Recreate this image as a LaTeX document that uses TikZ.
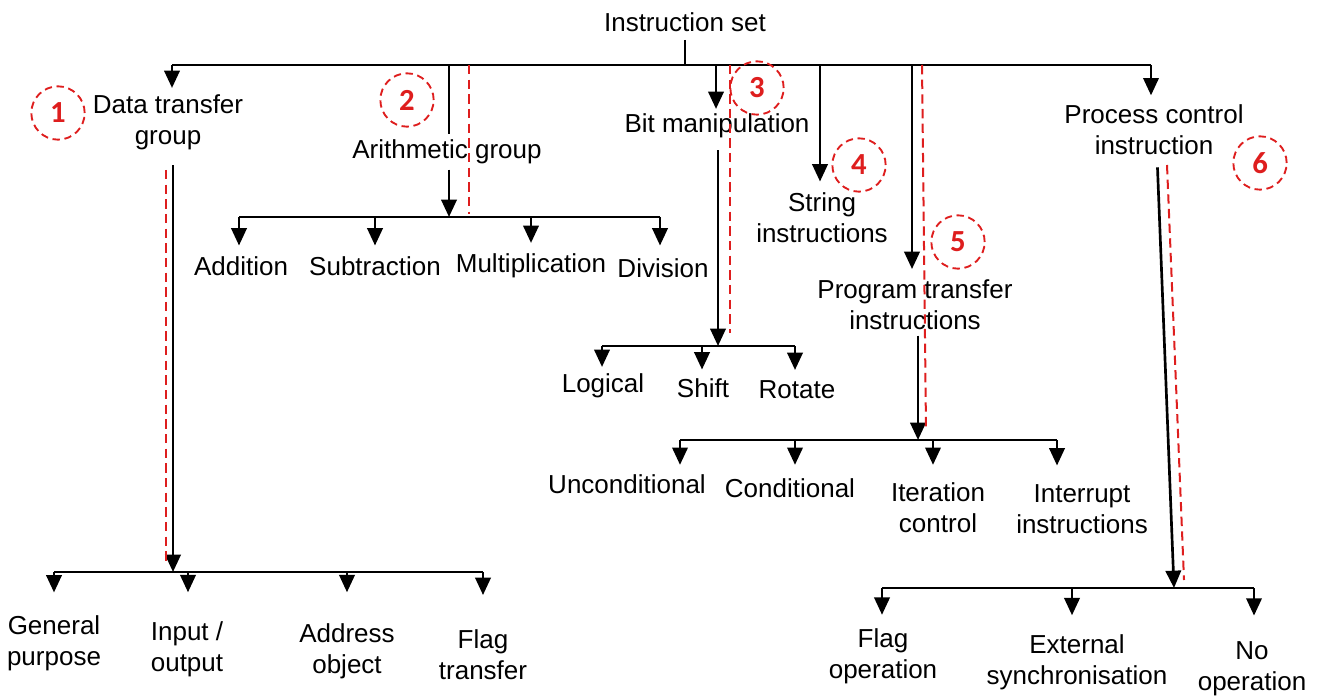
\documentclass[tikz,border=0pt]{standalone}
\usepackage{fontspec}
\setmainfont{Liberation Sans}
\newfontfamily\numfont{Carlito}
\usetikzlibrary{arrows.meta}
\definecolor{mark}{RGB}{222,30,30}
\begin{document}
\begin{tikzpicture}[x=0.75pt,y=-0.75pt,
  txt/.style={font=\fontsize{19.5}{23.25}\selectfont, align=center, inner sep=0pt},
  ln/.style={line width=2pt, black},
  arr/.style={ln, -{Triangle[length=13pt,width=11.5pt]}},
  reddash/.style={draw=mark, line width=1.5pt, dash pattern=on 7pt off 4pt},
  badge/.style={circle, draw=mark, line width=1.4pt, dash pattern=on 5.5pt off 3.5pt,
    minimum size=40pt, inner sep=0pt, text=mark,
    font=\numfont\bfseries\fontsize{23}{25}\selectfont}]
\useasboundingbox (0,0) rectangle (1333,698);

% ---------- text nodes ----------
\node[txt] (root) at (685,22) {Instruction set};
\node[txt] (dt) at (168,122.5) {Data transfer\\group};
\node[txt] (ar) at (447,152) {Arithmetic group};
\node[txt] (bm) at (717,126) {Bit manipulation};
\node[txt] (st) at (822,217.5) {String\\instructions};
\node[txt] (pt) at (915,305) {Program transfer\\instructions};
\node[txt] (pc) at (1154,130) {Process control\\instruction};

\node[txt] (add) at (241,266) {Addition};
\node[txt] (sub) at (375,266) {Subtraction};
\node[txt] (mul) at (531,266) {Multiplication};
\node[txt] (div) at (663,268) {Division};

\node[txt] (log) at (603,386) {Logical};
\node[txt] (shf) at (703,388) {Shift};
\node[txt] (rot) at (797,390) {Rotate};

\node[txt] (unc) at (627,484) {Unconditional};
\node[txt] (con) at (790,488) {Conditional};
\node[txt] (ite) at (938,507.5) {Iteration\\control};
\node[txt] (int) at (1082,509) {Interrupt\\instructions};

\node[txt] (gen) at (54,643) {General\\purpose};
\node[txt] (io) at (187,649.5) {Input /\\output};
\node[txt] (adr) at (347,651.5) {Address\\object};
\node[txt] (flt) at (483,655) {Flag\\transfer};

\node[txt] (flg) at (883,656) {Flag\\operation};
\node[txt] (ext) at (1077,662.5) {External\\synchronisation};
\node[txt] (nop) at (1252,669) {No\\operation};

% ---------- junction coordinates ----------
\coordinate (rj) at (685,65);
\coordinate (tL) at (172,65);
\coordinate (tA) at (449,65);
\coordinate (tB) at (716,65);
\coordinate (tS) at (820,65);
\coordinate (tP) at (912,65);
\coordinate (tR) at (1151,65);

\coordinate (aB) at (449,217);
\coordinate (aL) at (239,217);
\coordinate (a2) at (375,217);
\coordinate (a3) at (531,217);
\coordinate (aR) at (660,217);

\coordinate (bB) at (718,346);
\coordinate (bL) at (602,346);
\coordinate (b2) at (702,346);
\coordinate (bR) at (795,346);

\coordinate (pB) at (918,440);
\coordinate (pL) at (680,440);
\coordinate (p2) at (795,440);
\coordinate (p3) at (933,440);
\coordinate (pR) at (1057,440);

\coordinate (dB) at (173,572);
\coordinate (dL) at (54,572);
\coordinate (d2) at (188,572);
\coordinate (d3) at (347,572);
\coordinate (dR) at (483,572);

\coordinate (cS) at (1157,0);
\coordinate (cB) at (1174,588);
\coordinate (cL) at (882,588);
\coordinate (c2) at (1072,588);
\coordinate (cR) at (1254,588);

% ---------- top level ----------
\draw[ln, shorten <=6pt] (root.south) -- (rj);
\draw[ln] (tL) -- (tR);
\draw[arr, shorten >=5pt] (tL) -- (tL |- dt.north);
\draw[ln, shorten >=4pt] (tA) -- (tA |- ar.north);
\draw[arr, shorten >=3.5pt] (tB) -- (tB |- bm.north);
\draw[arr, shorten >=8pt] (tS) -- (tS |- st.north);
\draw[arr, shorten >=8pt] (tP) -- (tP |- pt.north);
\draw[arr, shorten >=7pt] (tR) -- (tR |- pc.north);

% ---------- arithmetic ----------
\draw[arr, shorten <=4pt] (ar.south -| aB) -- (aB);
\draw[ln] (aL) -- (aR);
\draw[arr, shorten >=8pt] (aL) -- (aL |- add.north);
\draw[arr, shorten >=8pt] (a2) -- (a2 |- sub.north);
\draw[arr, shorten >=8pt] (a3) -- (a3 |- mul.north);
\draw[arr, shorten >=9.5pt] (aR) -- (aR |- div.north);

% ---------- bit manipulation ----------
\draw[arr, shorten <=9pt] (bm.south -| bB) -- (bB);
\draw[ln] (bL) -- (bR);
\draw[arr, shorten >=5pt] (bL) -- (bL |- log.north);
\draw[arr, shorten >=6.5pt] (b2) -- (b2 |- shf.north);
\draw[arr, shorten >=8pt] (bR) -- (bR |- rot.north);

% ---------- program transfer ----------
\draw[arr, shorten <=4pt] (pt.south -| pB) -- (pB);
\draw[ln] (pL) -- (pR);
\draw[arr, shorten >=7pt] (pL) -- (pL |- unc.north);
\draw[arr, shorten >=10pt] (p2) -- (p2 |- con.north);
\draw[arr, shorten >=13pt] (p3) -- (p3 |- ite.north);
\draw[arr, shorten >=14pt] (pR) -- (pR |- int.north);

% ---------- data transfer ----------
\draw[arr, shorten <=11pt] (dt.south -| dB) -- (dB);
\draw[ln] (dL) -- (dR);
\draw[arr, shorten >=17pt] (dL) -- (dL |- gen.north);
\draw[arr, shorten >=22pt] (d2) -- (d2 |- io.north);
\draw[arr, shorten >=23.5pt] (d3) -- (d3 |- adr.north);
\draw[arr, shorten >=26pt] (dR) -- (dR |- flt.north);

% ---------- process control ----------
\draw[arr, shorten <=9pt] (pc.south -| cS) -- (cB);
\draw[ln] (cL) -- (cR);
\draw[arr, shorten >=10pt] (cL) -- (cL |- flg.north);
\draw[arr, shorten >=14.5pt] (c2) -- (c2 |- ext.north);
\draw[arr, shorten >=19.5pt] (cR) -- (cR |- nop.north);

% ---------- red dashed marks ----------
\draw[reddash] (166,170) -- (166,562);
\draw[reddash] (469,65) -- (469,214);
\draw[reddash] (730,65) -- (730,333);
\draw[reddash] (922,65) -- (926,430);
\draw[reddash] (1167,165) -- (1184,580);

\node[badge] (n1) at (58,113) {1};
\node[badge] (n2) at (407,100) {2};
\node[badge] (n3) at (757,88) {3};
\node[badge] (n4) at (859,165) {4};
\node[badge] (n5) at (958,242) {5};
\node[badge] (n6) at (1260,163) {6};
\end{tikzpicture}
\end{document}
